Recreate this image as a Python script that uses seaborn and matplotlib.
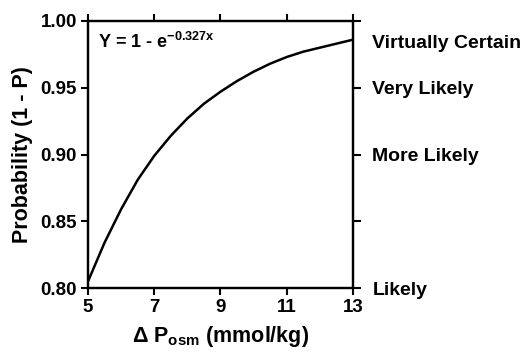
import matplotlib
matplotlib.use("Agg")
import matplotlib.pyplot as plt
import seaborn as sns
import pandas as pd

# values
delta_posm = [5.0, 5.5, 6.0, 6.5, 7.0, 7.5, 8.0, 8.5, 9.0,
              9.5, 10.0, 10.5, 11.0, 11.5, 12.0, 12.5, 13.0]
probability = [0.805, 0.834, 0.859, 0.881, 0.899, 0.914, 0.927, 0.938, 0.947,
               0.955, 0.962, 0.968, 0.973, 0.977, 0.980, 0.983, 0.986]

x_ticks = [5, 7, 9, 11, 13]
y_ticks = [0.80, 0.85, 0.90, 0.95, 1.00]
y_tick_labels = ["0.80", "0.85", "0.90", "0.95", "1.00"]
right_labels = ["Likely", "", "More Likely", "Very Likely", ""]
top_label = "Virtually Certain"
top_label_pos = 0.985

sns.set_style("ticks")
plt.rcParams["font.family"] = ["Liberation Sans", "DejaVu Sans"]
plt.rcParams["font.weight"] = "bold"
plt.rcParams["text.color"] = "black"
plt.rcParams["axes.labelcolor"] = "black"
plt.rcParams["mathtext.fontset"] = "custom"
plt.rcParams["mathtext.rm"] = "Liberation Sans:bold"
plt.rcParams["mathtext.it"] = "Liberation Sans:bold"
plt.rcParams["mathtext.bf"] = "Liberation Sans:bold"

df = pd.DataFrame({"x": delta_posm, "y": probability})

fig = plt.figure(figsize=(5.22, 3.54), dpi=100)
ax = fig.add_axes([0.1686, 0.1864, 0.676 - 0.1686, 0.9407 - 0.1864])
sns.lineplot(data=df, x="x", y="y", color="black", linewidth=1.8, ax=ax)

ax.set_xlim(5, 13)
ax.set_ylim(0.80, 1.00)
ax.set_xticks(x_ticks)
ax.set_yticks(y_ticks)
ax.set_yticklabels(y_tick_labels)
ax.tick_params(axis="both", direction="out", length=5, width=1.5,
               labelsize=13.5, pad=3, colors="black")
ax.tick_params(axis="x", top=True)
for s in ax.spines.values():
    s.set_linewidth(1.6)
    s.set_color("black")

ax.set_xlabel("Δ P$_{osm}$ (mmol/kg)", fontsize=15.5, fontweight="bold",
              labelpad=6, color="black")
ax.set_ylabel("Probability (1 - P)", fontsize=15.5, fontweight="bold",
              labelpad=5, color="black")

ax.text(0.038, 0.96, "Y = 1 - e$^{-0.327x}$", transform=ax.transAxes,
        fontsize=13, fontweight="bold", va="top", ha="left", color="black")

ax2 = ax.twinx()
ax2.set_ylim(0.80, 1.00)
ax2.set_yticks(y_ticks)
ax2.set_yticklabels(right_labels)
ax2.set_yticks([top_label_pos], labels=[top_label], minor=True)
ax2.tick_params(axis="y", which="major", direction="out", length=6, width=1.5,
                labelsize=14, pad=8, colors="black")
ax2.tick_params(axis="y", which="minor", length=0, labelsize=14, pad=14,
                colors="black")
for s in ax2.spines.values():
    s.set_linewidth(1.6)
    s.set_color("black")

fig.savefig("out.png", dpi=100)
